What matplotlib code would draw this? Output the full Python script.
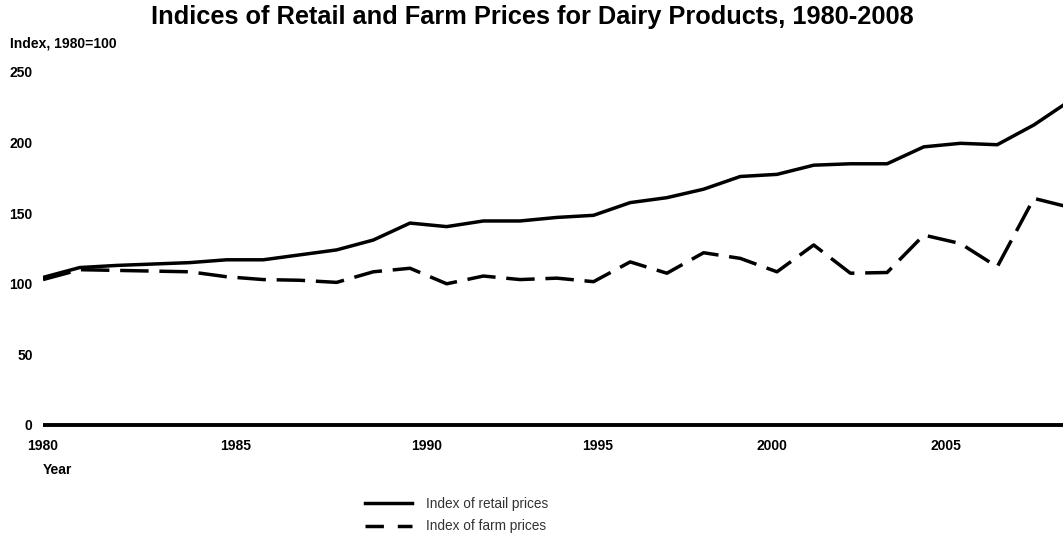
import matplotlib.pyplot as plt
from matplotlib.lines import Line2D

plt.rcParams['font.family'] = ['Liberation Sans', 'DejaVu Sans']

years = list(range(1980, 2009))
retail = [104.5, 111.5, 113, 114, 115, 117, 117, 120.5, 124, 131, 143, 140.5, 144.5, 144.5,
          147, 148.5, 157.5, 161, 167, 176, 177.5, 184, 185, 185, 197, 199.5, 198.5, 212.5, 230]
farm = [103, 110, 109.5, 109, 108.5, 105, 103, 102.5, 101, 108.5, 111, 100, 105.5, 103,
        104, 101.5, 115.5, 107.5, 122, 118, 108.5, 127.5, 107.5, 108, 134.5, 128.5, 112, 160.5, 154]

# label spots as drawn in the original (not exactly on the year)
tick_pos = [1980, 1985.26, 1990.46, 1995.12, 1999.86, 2004.6]
tick_labels = ['1980', '1985', '1990', '1995', '2000', '2005']
y_ticks = [0, 50, 100, 150, 200, 250]

W, H = 1063, 536
fig = plt.figure(figsize=(W / 100, H / 100), dpi=100)
ax = fig.add_axes([43 / W, 111 / H, 1 - 43 / W, (425 - 72) / H])

ax.plot(years, retail, color='black', lw=2.5, solid_joinstyle='miter')
ax.plot(years, farm, color='black', lw=2.5, linestyle=(0, (8.2, 3.1)))

ax.set_xlim(1980, 1980 + (W - 43) / 36.7)
ax.set_ylim(0, 250)

for s in ['top', 'right', 'left']:
    ax.spines[s].set_visible(False)
ax.spines['bottom'].set_linewidth(2.8)
ax.spines['bottom'].set_capstyle('butt')

ax.set_xticks(tick_pos)
ax.set_xticklabels(tick_labels)
ax.set_yticks(y_ticks)
ax.tick_params(axis='both', length=0, labelsize=10)
ax.tick_params(axis='y', pad=7.5)
ax.tick_params(axis='x', pad=10)
for t in ax.get_xticklabels() + ax.get_yticklabels():
    t.set_fontweight('bold')

fig.text(532 / W, 1 - 17 / H, 'Indices of Retail and Farm Prices for Dairy Products, 1980-2008',
         ha='center', va='center', fontsize=18.3, fontweight='bold')
fig.text(10 / W, 1 - 43 / H, 'Index, 1980=100', ha='left', va='center', fontsize=10, fontweight='bold')
fig.text(43 / W, 1 - 470 / H, 'Year', ha='left', va='center', fontsize=10, fontweight='bold')

handles = [Line2D([], [], color='black', lw=2.5),
           Line2D([], [], color='black', lw=2.5, linestyle=(0, (5.3, 4.0)))]
leg = fig.legend(handles, ['Index of retail prices', 'Index of farm prices'],
                 loc='upper left', bbox_to_anchor=(365 / W, 1 - 497 / H),
                 frameon=False, fontsize=9.8, handlelength=3.45, handletextpad=1.05,
                 labelspacing=0.62, borderpad=0, borderaxespad=0)
for t in leg.get_texts():
    t.set_color('#333333')

fig.savefig('out.png', dpi=100)
